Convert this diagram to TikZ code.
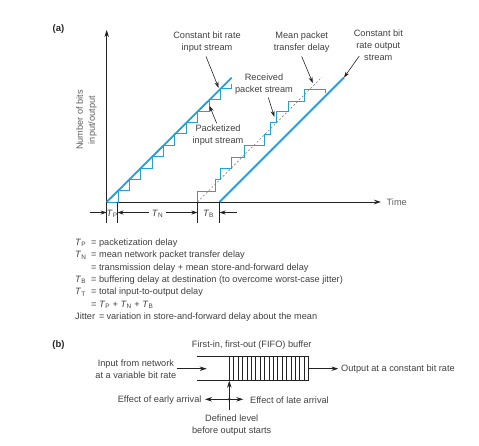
\documentclass[tikz,border=0pt]{standalone}
\usepackage{fontspec}
\setmainfont{Liberation Sans}
\usetikzlibrary{arrows.meta}
\definecolor{cblue}{RGB}{30,160,225}
\definecolor{txt}{RGB}{64,64,64}
\definecolor{lbltxt}{RGB}{95,95,95}
\definecolor{ln}{RGB}{35,35,35}
\newcommand{\Tsub}[1]{\textit{T}\textsubscript{#1}}
\begin{document}
\begin{tikzpicture}[x=1pt,y=-1pt,
  font=\fontsize{9.2}{12}\selectfont, text=txt,
  axis/.style={draw=ln, line width=0.8pt, -{Stealth[length=7pt,width=4.5pt]}},
  bline/.style={draw=cblue, line width=1.8pt},
  stairs/.style={draw=cblue, line width=0.8pt},
  meanline/.style={draw=gray, line width=0.6pt, dash pattern=on 2pt off 2pt},
  callout/.style={draw=ln, line width=0.6pt, -{Stealth[length=6pt,width=4pt]}},
  dim/.style={draw=ln, line width=0.6pt, -{Stealth[length=6pt,width=4pt]}},
  tickline/.style={draw=ln, line width=0.6pt},
  bufline/.style={draw=ln, line width=0.7pt},
  hatch/.style={draw=ln, line width=0.5pt},
  barrow/.style={draw=ln, line width=0.7pt, -{Stealth[length=7pt,width=4.5pt]}},
  dbarrow/.style={draw=ln, line width=0.7pt, {Stealth[length=7pt,width=4.5pt]}-{Stealth[length=7pt,width=4.5pt]}},
  lbl/.style={inner sep=0pt, align=center},
  leg/.style={anchor=base west, inner sep=0pt},
  partlbl/.style={inner sep=0pt, font=\fontsize{9.5}{11}\selectfont\bfseries, text=black!85}
  ]
\useasboundingbox (0,0) rectangle (479,445);

% ---------------- (a) ----------------
\node[partlbl] (la) at (58.5,29) {(a)};

\coordinate (O) at (106.7,202);
\coordinate (Ytop) at (106.7,30);
\coordinate (Xend) at (381,202);
\draw[axis] (O) -- (Ytop);
\draw[axis] (O) -- (Xend);
\node[anchor=west, inner sep=0pt, text=lbltxt] (time) at (386.5,202.5) {Time};
\node[lbl, rotate=90, text=lbltxt] (ylab) at (86.5,120) {Number of bits\\input/output};

% packetized input staircase
\draw[stairs] (O) \foreach \k in {1,...,10}{ -- ++(11.36,0) -- ++(0,-11.36) } -- ++(11.36,0) -- ++(0,-4);
% constant bit rate input
\coordinate (Iend) at (231.7,77.7);
\draw[bline] (O) -- (Iend);

% mean transfer delay line
\coordinate (R0) at (197.5,202);
\coordinate (Rend) at (322,77);
\draw[meanline] (R0) -- (Rend);
% received packet staircase
\draw[stairs] (R0) -- (197.5,191) -- (215.5,191) -- (215.5,179.5) -- (220.5,179.5) -- (220.5,168)
  -- (231.5,168) -- (231.5,157) -- (244,157) -- (244,145) -- (264.5,145) -- (264.5,134.5)
  -- (270.5,134.5) -- (270.5,122.5) -- (276,122.5) -- (276,111.5) -- (288,111.5) -- (288,101.5)
  -- (304.5,101.5) -- (304.5,89.3) -- (325.5,89.3) -- (325.5,93);

% constant bit rate output
\coordinate (Q0) at (219.5,202);
\coordinate (Qend) at (344,77.5);
\draw[bline] (Q0) -- (Qend);

% delay ticks
\foreach \n/\x in {t0/106.7, t1/117.5, t2/197.5, t3/219.5}{
  \coordinate (\n) at (\x,202);
  \coordinate (\n b) at (\x,223.3);
  \draw[tickline] (\n) -- (\n b);
}
\node[inner sep=0pt] (TP) at (112.1,213.5) {\Tsub{P}};
\node[inner sep=2.5pt] (TN) at (157.5,213.5) {\Tsub{N}};
\node[inner sep=0pt] (TB) at (208.5,213.5) {\Tsub{B}};
\coordinate (dL) at (90,212.5);
\coordinate (dR) at (236.7,212.5);
\draw[dim] (dL) -- (t0 |- dL);
\draw[dim] (TN.west |- dL) -- (t1 |- dL);
\draw[dim] (TN.east |- dL) -- (t2 |- dL);
\draw[dim] (dR) -- (t3 |- dR);

% callouts
\node[lbl] (cbr) at (207,42) {Constant bit rate\\input stream};
\coordinate (cbrA) at (206,56.5);
\coordinate (cbrT) at (218.6,87.8);
\draw[callout] (cbrA) -- (cbrT);

\node[lbl] (pkt) at (218,135) {Packetized\\input stream};
\coordinate (pktA) at (216.7,123.3);
\coordinate (pktT) at (209.5,105.8);
\draw[callout] (pktA) -- (pktT);

\node[lbl] (rcv) at (264,84.2) {Received\\packet stream};
\coordinate (rcvA) at (268.3,97.5);
\coordinate (rcvT) at (274.3,116.8);
\draw[callout] (rcvA) -- (rcvT);

\node[lbl] (mean) at (301.7,42.5) {Mean packet\\transfer delay};
\coordinate (meanA) at (301.7,56.5);
\coordinate (meanT) at (312.8,83);
\draw[callout] (meanA) -- (meanT);

\node[lbl] (cbo) at (378.3,45) {Constant bit\\rate output\\stream};
\coordinate (cboA) at (359.3,56);
\draw[callout] (cboA) -- (Qend);

% legend
\node[leg] (sP) at (75,245.3) {\Tsub{P}};
\node[leg] (eP) at (91,245.3) {= packetization delay};
\node[leg] (sN) at (75,257.7) {\Tsub{N}};
\node[leg] (eN) at (91,257.7) {= mean network packet transfer delay};
\node[leg] (eN2) at (91,270.1) {= transmission delay + mean store-and-forward delay};
\node[leg] (sB) at (75,282.5) {\Tsub{B}};
\node[leg] (eB) at (91,282.5) {= buffering delay at destination (to overcome worst-case jitter)};
\node[leg] (sT) at (75,294.9) {\Tsub{T}};
\node[leg] (eT) at (91,294.9) {= total input-to-output delay};
\node[leg] (eT2) at (91,307.3) {= \Tsub{P} + \Tsub{N} + \Tsub{B}};
\node[leg] (jit) at (75,319.7) {Jitter\hspace{4pt}=\hspace{2pt}variation in store-and-forward delay about the mean};

% ---------------- (b) ----------------
\node[partlbl] (lb) at (58.5,345) {(b)};
\node[inner sep=0pt] (fifo) at (251.7,345) {First-in, first-out (FIFO) buffer};

\coordinate (bTL) at (196.7,356.7);
\coordinate (bTR) at (308.3,356.7);
\coordinate (bBL) at (196.7,380.7);
\coordinate (bBR) at (308.3,380.7);
\draw[bufline] (bTL) -- (bTR) -- (bBR) -- (bBL);
\foreach \i in {0,...,17}{ \draw[hatch] (229.3+\i*4.39,356.7) -- ++(0,24); }

\node[lbl, anchor=east] (inp) at (176.5,369.5) {Input from network\\at a variable bit rate};
\coordinate (inTip) at (206.7,368.7);
\draw[barrow] (inp.east |- inTip) -- (inTip);

\coordinate (bMid) at (308.3,368.7);
\coordinate (outTip) at (338.3,368.7);
\draw[barrow] (bMid) -- (outTip);
\node[anchor=west, inner sep=0pt] (outp) at (341,369.3) {Output at a constant bit rate};

\coordinate (vB) at (229.3,410);
\coordinate (vT) at (229.3,380.7);
\draw[barrow] (vB) -- (vT);
\coordinate (hL) at (205,399.3);
\coordinate (hR) at (243.3,399.3);
\draw[dbarrow] (hL) -- (hR);
\coordinate (hC) at (vB |- hL);
\fill[ln] (hC) circle (1.6pt);
\node[anchor=east, inner sep=0pt] (early) at (201.7,399.8) {Effect of early arrival};
\node[anchor=west, inner sep=0pt] (late) at (250,399.8) {Effect of late arrival};
\node[lbl] (deflev) at (231.7,425.5) {Defined level\\before output starts};
\end{tikzpicture}
\end{document}
